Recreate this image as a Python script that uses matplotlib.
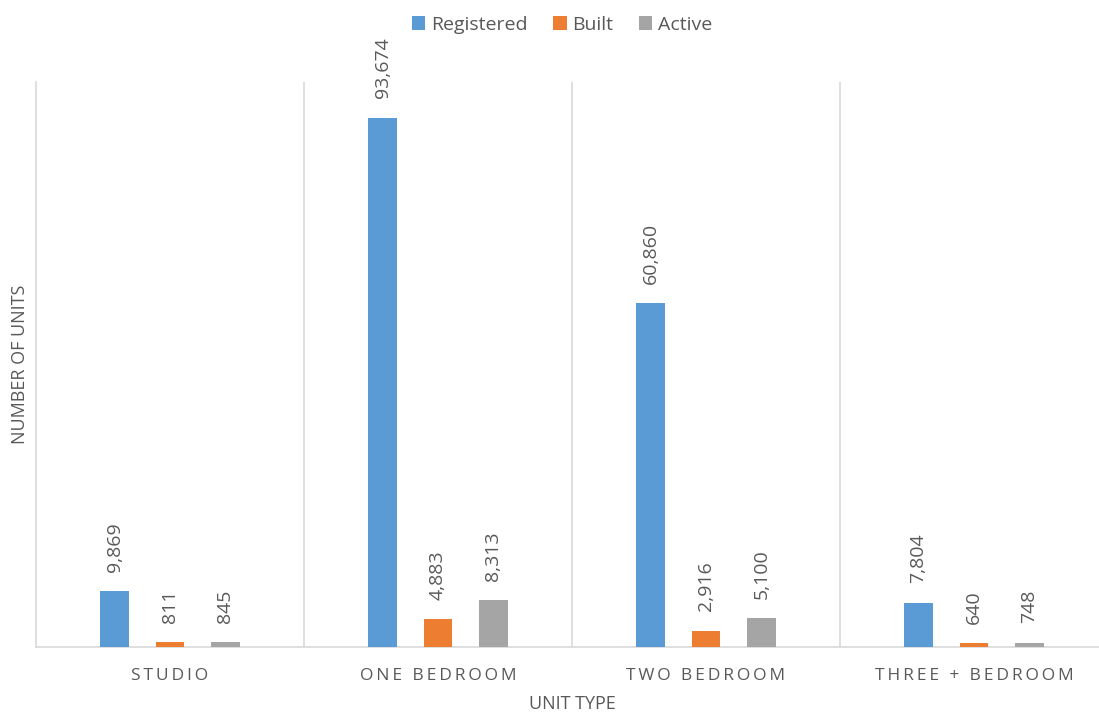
import numpy as np
import matplotlib.pyplot as plt

# unit type categories and the three series
categories = ["STUDIO", "ONE BEDROOM", "TWO BEDROOM", "THREE + BEDROOM"]
registered = [9869, 93674, 60860, 7804]
built = [811, 4883, 2916, 640]
active = [845, 8313, 5100, 748]

series = [("Registered", registered, "#5B9BD5"),
          ("Built", built, "#ED7D31"),
          ("Active", active, "#A5A5A5")]

plt.rcParams['font.family'] = ['Open Sans', 'DejaVu Sans']
text_col = "#595959"
grid_col = "#D9D9D9"

fig = plt.figure(figsize=(10.99, 7.15), dpi=100)
ax = fig.add_axes([36 / 1099, 1 - 647 / 715, (1108 - 36) / 1099, (647 - 82) / 715])

x = np.arange(len(categories))
step = 0.207
width = 0.108
for k, (name, vals, col) in enumerate(series):
    pos = x + (k - 1) * step
    ax.bar(pos, vals, width=width, color=col, label=name, zorder=3)
    for px, v in zip(pos, vals):
        ax.annotate(f"{v:,}", (px, v), xytext=(0, 14), textcoords="offset points",
                    rotation=90, ha="center", va="bottom", fontsize=14, color=text_col)

ax.set_xlim(-0.5, len(categories) - 0.5)
ax.set_ylim(0, 100000)

# category separators
for b in np.arange(0.5, len(categories) - 0.5, 1):
    ax.axvline(b, color=grid_col, lw=1.2, zorder=1)

for s in ["top", "right"]:
    ax.spines[s].set_visible(False)
ax.spines["left"].set_color(grid_col)
ax.spines["bottom"].set_color(grid_col)
ax.spines["left"].set_linewidth(1.2)
ax.spines["bottom"].set_linewidth(1.2)

ax.set_yticks([])
ax.set_xticks(x)
ax.set_xticklabels(["\u2009".join(c) for c in categories], fontsize=12.5, color=text_col)
ax.tick_params(axis="x", length=0, pad=15)

ax.set_ylabel("NUMBER OF UNITS", fontsize=13, color=text_col, labelpad=5)
ax.set_xlabel("UNIT TYPE", fontsize=13, color=text_col, labelpad=8)

ax.legend(loc="center", bbox_to_anchor=(562 / 1099, 1 - 25 / 715), bbox_transform=fig.transFigure,
          ncol=3, frameon=False, fontsize=14, handlelength=0.7, handleheight=0.7,
          handletextpad=0.3, columnspacing=1.3, labelcolor=text_col)

fig.savefig("out.png", dpi=100)
